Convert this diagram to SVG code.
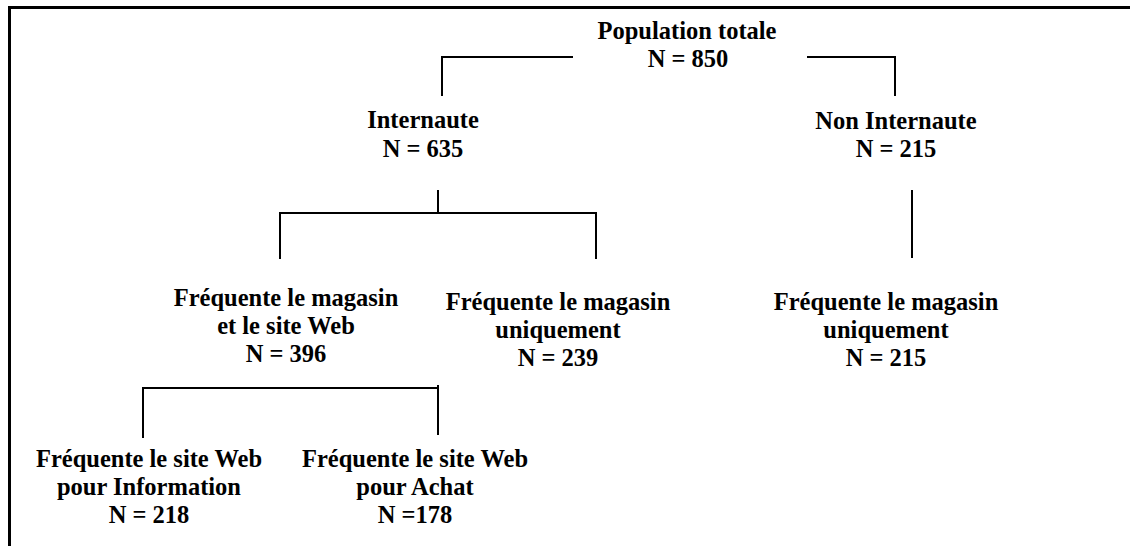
<svg xmlns="http://www.w3.org/2000/svg" width="1130" height="546" viewBox="0 0 1130 546">
<style>
text{font-family:'Liberation Serif','Times New Roman','DejaVu Serif',serif;font-weight:700;font-size:24.5px;fill:#000;text-anchor:middle}
.c{stroke:#000;stroke-width:2;fill:none}
.b{stroke:#000;stroke-width:3;fill:none}
</style>
<rect width="1130" height="546" fill="#fff"/>
<path class="b" d="M9.5,546 V7.5 H1130"/>
<g id="connectors">
<path class="c" d="M442,96 V57 H573"/>
<path class="c" d="M807,57 H895 V96"/>
<path class="c" d="M438,190 V213"/>
<path class="c" d="M280,259 V213 H596 V259"/>
<path class="c" d="M912,190 V258"/>
<path class="c" d="M143,438 V388 H438"/>
<path class="c" d="M438,385 V435"/>
</g>
<g id="n-total"><text x="687" y="39">Population totale</text><text x="688" y="67">N = 850</text></g>
<g id="n-internaute"><text x="423" y="128">Internaute</text><text x="423" y="157">N = 635</text></g>
<g id="n-noninternaute"><text x="896" y="129">Non Internaute</text><text x="896" y="157">N = 215</text></g>
<g id="n-magweb"><text x="286" y="306">Fréquente le magasin</text><text x="286" y="334">et le site Web</text><text x="286" y="362">N = 396</text></g>
<g id="n-magseul1"><text x="558" y="310">Fréquente le magasin</text><text x="558" y="338">uniquement</text><text x="558" y="366">N = 239</text></g>
<g id="n-magseul2"><text x="886" y="310">Fréquente le magasin</text><text x="886" y="338">uniquement</text><text x="886" y="366">N = 215</text></g>
<g id="n-info"><text x="149" y="467">Fréquente le site Web</text><text x="149" y="495">pour Information</text><text x="149" y="523">N = 218</text></g>
<g id="n-achat"><text x="415" y="467">Fréquente le site Web</text><text x="415" y="495">pour Achat</text><text x="415" y="523">N =178</text></g>
</svg>
